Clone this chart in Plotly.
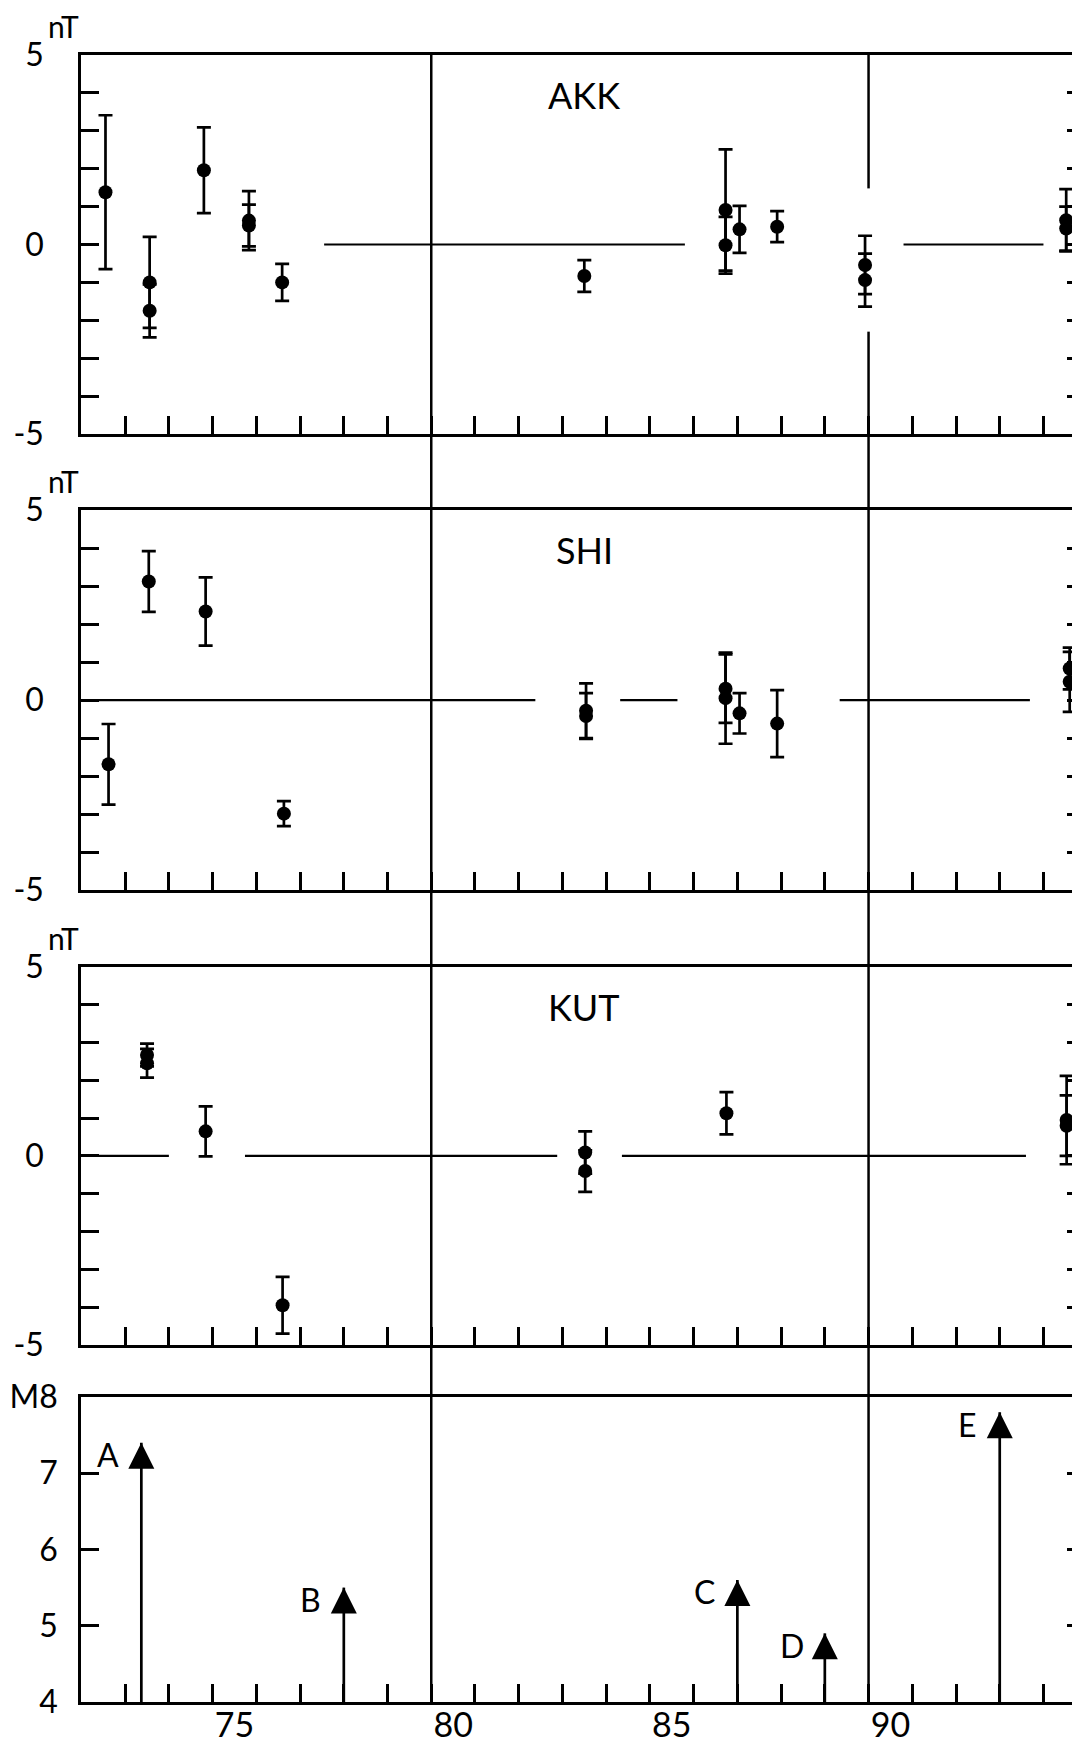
import plotly.graph_objects as go

# ---------------- data ----------------
AKK_year = [72.05, 73.06, 73.06, 74.3, 75.33, 75.33, 76.09, 83.0, 86.23, 86.23, 86.55, 87.41, 89.42, 89.42, 94.02, 94.02]
AKK_val = [1.38, -1.0, -1.75, 1.96, 0.63, 0.5, -1.0, -0.83, 0.91, -0.02, 0.4, 0.47, -0.54, -0.94, 0.64, 0.42]
AKK_err = [2.03, 1.2, 0.7, 1.13, 0.78, 0.55, 0.49, 0.42, 1.6, 0.75, 0.62, 0.41, 0.77, 0.7, 0.82, 0.58]
AKK_zero = [(77.05, 85.3), (90.3, 93.5)]

SHI_year = [72.12, 73.04, 74.34, 76.13, 83.04, 83.04, 86.23, 86.23, 86.55, 87.41, 94.1, 94.1]
SHI_val = [-1.69, 3.12, 2.33, -2.99, -0.28, -0.42, 0.3, 0.05, -0.35, -0.62, 0.83, 0.48]
SHI_err = [1.06, 0.8, 0.9, 0.33, 0.72, 0.6, 0.9, 1.2, 0.53, 0.88, 0.55, 0.79]
SHI_zero = [(71.49, 81.88), (83.82, 85.13), (88.84, 93.19)]

KUT_year = [73.0, 73.0, 74.34, 76.1, 83.02, 83.02, 86.25, 94.03, 94.03]
KUT_val = [2.67, 2.45, 0.65, -3.95, 0.09, -0.4, 1.13, 0.95, 0.8]
KUT_err = [0.3, 0.38, 0.66, 0.75, 0.56, 0.55, 0.56, 1.17, 0.8]
KUT_zero = [(71.49, 73.5), (75.24, 82.38), (83.86, 93.1)]

EQ_label = ["A", "B", "C", "D", "E"]
EQ_year = [72.87, 77.5, 86.5, 88.5, 92.5]
EQ_mag = [7.4, 5.5, 5.6, 4.9, 7.8]

X_RANGE = [71.49, 94.45]
X_LABELS = [75, 80, 85, 90]
X_MINOR = [v + 0.5 for v in range(72, 94)]
V_LINES = [79.5, 89.5]
AKK_GAP = [-2.3, 1.48]  # gap of the 89.5 line inside the AKK panel

NT_TICKS = list(range(-5, 6))
NT_TEXT = ["-5", "", "", "", "", "0", "", "", "", "", "5"]
M_TICKS = [4, 5, 6, 7, 8]
M_TEXT = ["4", "5", "6", "7", "M8"]

panels = [("AKK", AKK_year, AKK_val, AKK_err, AKK_zero),
          ("SHI", SHI_year, SHI_val, SHI_err, SHI_zero),
          ("KUT", KUT_year, KUT_val, KUT_err, KUT_zero)]

domains = [[0.7699, 1.0], [0.4930, 0.7237], [0.2168, 0.4463], [0.0, 0.1852]]

FONT = "Lato, 'DejaVu Sans', sans-serif"
LW = 2.5

fig = go.Figure()

for i, (name, yr, val, err, zero) in enumerate(panels, start=1):
    xa = "x" if i == 1 else f"x{i}"
    ya = "y" if i == 1 else f"y{i}"
    zx, zy = [], []
    for a, b in zero:
        zx += [a, b, None]
        zy += [0, 0, None]
    fig.add_trace(go.Scatter(x=zx, y=zy, mode="lines", line=dict(color="black", width=2.2),
                             xaxis=xa, yaxis=ya, showlegend=False, hoverinfo="skip"))
    fig.add_trace(go.Scatter(x=yr, y=val, mode="markers",
                             marker=dict(color="black", size=14, symbol="circle"),
                             error_y=dict(type="data", array=err, visible=True, color="black",
                                          thickness=2.7, width=7),
                             xaxis=xa, yaxis=ya, showlegend=False))
    fig.add_annotation(x=83.0, y=3.95, xref=xa, yref=ya, text=name, showarrow=False,
                       font=dict(family=FONT, size=36, color="black"))
    fig.add_annotation(x=0, y=domains[i - 1][1], xref="paper", yref="paper", text="nT",
                       showarrow=False, xanchor="right", yanchor="bottom", yshift=9,
                       font=dict(family=FONT, size=30, color="black"))

# earthquake arrows
sx, sy = [], []
for x, m in zip(EQ_year, EQ_mag):
    sx += [x, x, None]
    sy += [4, m, None]
fig.add_trace(go.Scatter(x=sx, y=sy, mode="lines", line=dict(color="black", width=2.7),
                         xaxis="x4", yaxis="y4", showlegend=False, hoverinfo="skip"))
fig.add_trace(go.Scatter(x=EQ_year, y=EQ_mag, mode="markers",
                         marker=dict(color="black", size=26, symbol="arrow-up"),
                         xaxis="x4", yaxis="y4", showlegend=False))
for lab, x, m in zip(EQ_label, EQ_year, EQ_mag):
    fig.add_annotation(x=x, y=m, xref="x4", yref="y4", text=lab, showarrow=False,
                       xshift=-33, yshift=-12, font=dict(family=FONT, size=32, color="black"))

# vertical reference lines
line = dict(color="black", width=LW)
fig.add_shape(type="line", xref="x4", yref="paper", x0=V_LINES[0], x1=V_LINES[0],
              y0=0, y1=domains[0][1], line=line)
fig.add_shape(type="line", xref="x", yref="y", x0=V_LINES[1], x1=V_LINES[1],
              y0=AKK_GAP[1], y1=5, line=line)
fig.add_shape(type="line", xref="x", yref="y", x0=V_LINES[1], x1=V_LINES[1],
              y0=-5, y1=AKK_GAP[0], line=line)
fig.add_shape(type="line", xref="x4", yref="paper", x0=V_LINES[1], x1=V_LINES[1],
              y0=0, y1=domains[0][0], line=line)

layout = dict(width=1080, height=1747, paper_bgcolor="white", plot_bgcolor="white",
              margin=dict(l=73, r=3, t=47, b=53), font=dict(family=FONT, color="black"))

for i in range(1, 5):
    xk = "xaxis" if i == 1 else f"xaxis{i}"
    yk = "yaxis" if i == 1 else f"yaxis{i}"
    ya = "y" if i == 1 else f"y{i}"
    xa = "x" if i == 1 else f"x{i}"
    xax = dict(domain=[0, 1], anchor=ya, range=X_RANGE, showline=True, linecolor="black",
               linewidth=LW, mirror=True, showgrid=False, zeroline=False, automargin=False,
               tickmode="array", tickvals=X_LABELS, ticktext=[str(v) for v in X_LABELS],
               ticks="", showticklabels=(i == 4), ticklabelstandoff=-9,
               tickfont=dict(family=FONT, size=34, color="black"),
               minor=dict(tickmode="array", tickvals=X_MINOR, ticks="inside", ticklen=18,
                          tickwidth=LW, tickcolor="black", showgrid=False))
    if i < 4:
        yax = dict(domain=domains[i - 1], anchor=xa, range=[-5, 5], tickmode="array",
                   tickvals=NT_TICKS, ticktext=NT_TEXT, ticklabelstandoff=28)
    else:
        yax = dict(domain=domains[3], anchor=xa, range=[4, 8], tickmode="array",
                   tickvals=M_TICKS, ticktext=M_TEXT, ticklabelstandoff=14)
    yax.update(showline=True, linecolor="black", linewidth=LW, mirror="ticks",
               ticks="inside", ticklen=18, tickwidth=LW, tickcolor="black", automargin=False,
               showgrid=False, zeroline=False,
               tickfont=dict(family=FONT, size=32, color="black"))
    layout[xk] = xax
    layout[yk] = yax

fig.update_layout(**layout)
fig.write_html("out.html")
